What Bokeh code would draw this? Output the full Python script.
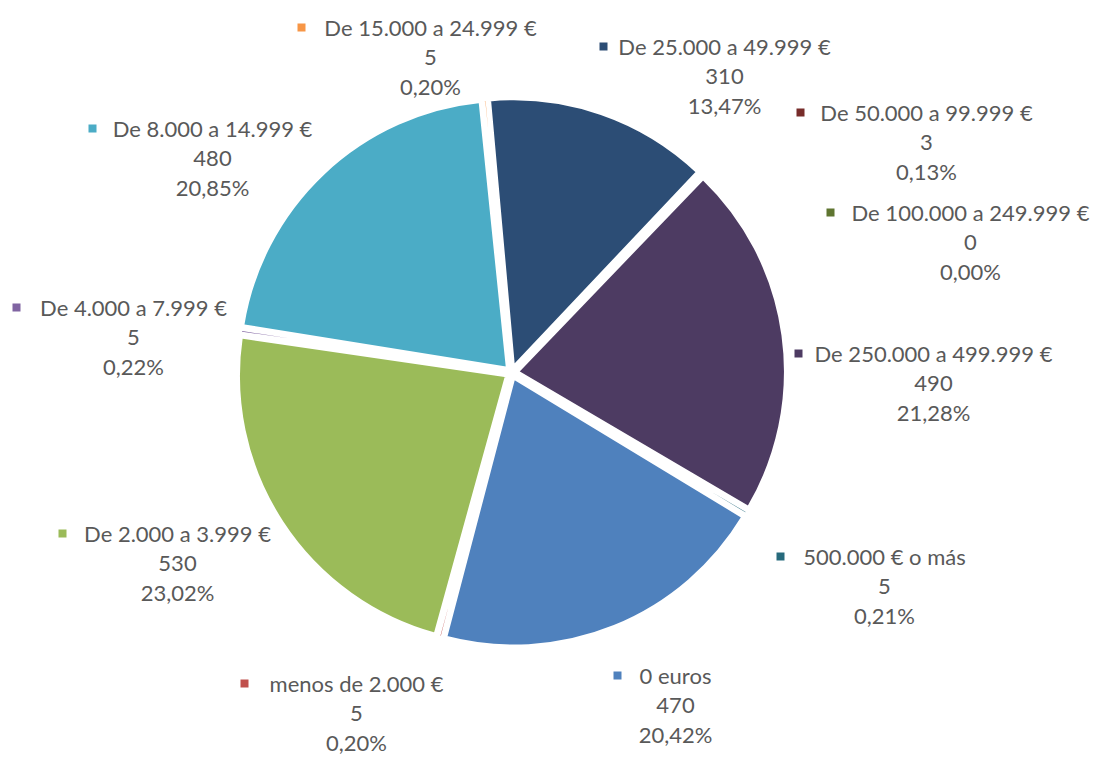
import math
from bokeh.plotting import figure
from bokeh.models import Range1d, ColumnDataSource
from bokeh.core.properties import value
from bokeh.embed import file_html
from bokeh.resources import INLINE

# ---- data ----
categories = ["0 euros", "menos de 2.000 €", "De 2.000 a 3.999 €", "De 4.000 a 7.999 €",
              "De 8.000 a 14.999 €", "De 15.000 a 24.999 €", "De 25.000 a 49.999 €",
              "De 50.000 a 99.999 €", "De 100.000 a 249.999 €", "De 250.000 a 499.999 €",
              "500.000 € o más"]
counts = [470, 5, 530, 5, 480, 5, 310, 3, 0, 490, 5]
percents = [20.42, 0.20, 23.02, 0.22, 20.85, 0.20, 13.47, 0.13, 0.00, 21.28, 0.21]
colors = ["#4F81BD", "#C0504D", "#9BBB59", "#8064A2", "#4BACC6", "#F79646",
          "#2C4D75", "#772C2A", "#5F7530", "#4D3B62", "#276A7C"]

# ---- layout (screen pixels of the picture) ----
W, H = 1100, 758
first_angle_deg = 121.2      # clockwise from 12 o'clock
cx_s, cy_s, R = 511, 372, 268
explode = 6
label_cx = [675, 356, 177, 133, 212, 430, 724, 926, 970, 933, 884]
label_y = [675, 683, 533, 307, 128, 27, 46, 112, 212, 353, 556]
square_x = [617, 244, 62, 16, 92, 301, 603, 800, 830, 798, 780]
line_gap = 29.5

def ydata(ys):
    return H - ys

p = figure(width=W, height=H, x_range=Range1d(0, W), y_range=Range1d(0, H),
           output_backend="svg", toolbar_location=None, min_border=0,
           x_axis_type=None, y_axis_type=None, outline_line_color=None)
p.background_fill_color = "white"

# wedges
total = sum(percents)
xs, ys, sa, ea, cols = [], [], [], [], []
acc = first_angle_deg
for pct, col in zip(percents, colors):
    span = pct / total * 360.0
    if pct > 0:
        mid = math.radians(acc + span / 2)
        xs.append(cx_s + explode * math.sin(mid))
        ys.append(ydata(cy_s) + explode * math.cos(mid))
        sa.append(math.pi / 2 - math.radians(acc))
        ea.append(math.pi / 2 - math.radians(acc + span))
        cols.append(col)
    acc += span

src = ColumnDataSource(dict(x=xs, y=ys, sa=sa, ea=ea, c=cols))
p.wedge(x="x", y="y", radius=R, start_angle="sa", end_angle="ea", direction="clock",
        fill_color="c", line_color="white", line_width=3, source=src)

# labels
font = value("Lato")
tcol = "#595959"
name_y = [ydata(v) for v in label_y]
val_y = [ydata(v + line_gap) for v in label_y]
pct_y = [ydata(v + 2 * line_gap) for v in label_y]
pct_txt = [("%.2f" % v).replace(".", ",") + "%" for v in percents]

p.scatter(x=square_x, y=name_y, marker="square", size=8, fill_color=colors, line_color=None)
p.text(x=label_cx, y=name_y, text=categories, text_font=font, text_font_size="22px",
       text_color=tcol, text_align="center", text_baseline="middle")
p.text(x=label_cx, y=val_y, text=[str(c) for c in counts], text_font=font, text_font_size="22px",
       text_color=tcol, text_align="center", text_baseline="middle")
p.text(x=label_cx, y=pct_y, text=pct_txt, text_font=font, text_font_size="22px",
       text_color=tcol, text_align="center", text_baseline="middle")

open("out.html", "w").write(file_html(p, INLINE))
